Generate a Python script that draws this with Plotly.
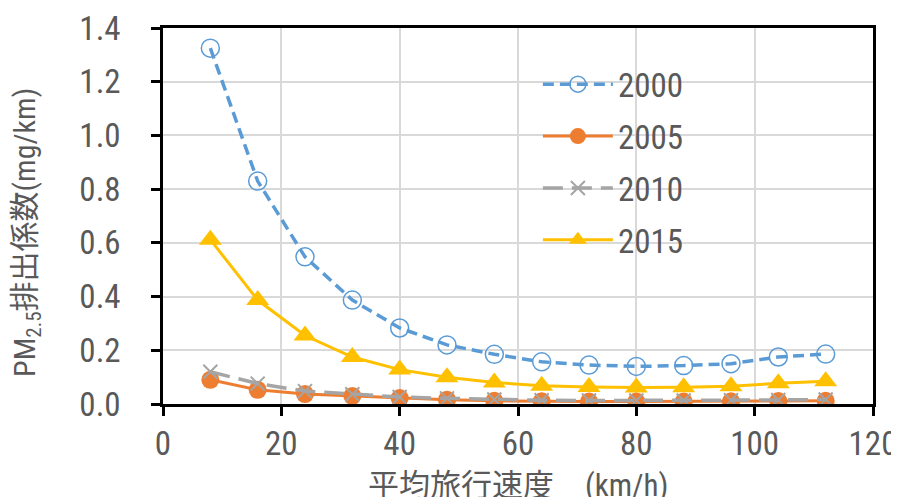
import plotly.graph_objects as go

speed = [8, 16, 24, 32, 40, 48, 56, 64, 72, 80, 88, 96, 104, 112]
y2000 = [1.325, 0.83, 0.548, 0.387, 0.283, 0.22, 0.185, 0.157, 0.145, 0.14, 0.143, 0.15, 0.175, 0.186]
y2005 = [0.09, 0.053, 0.037, 0.03, 0.022, 0.016, 0.012, 0.01, 0.009, 0.009, 0.009, 0.01, 0.011, 0.012]
y2010 = [0.12, 0.076, 0.048, 0.036, 0.026, 0.021, 0.017, 0.014, 0.013, 0.013, 0.013, 0.014, 0.015, 0.017]
y2015 = [0.612, 0.387, 0.255, 0.175, 0.128, 0.1, 0.08, 0.068, 0.063, 0.061, 0.062, 0.066, 0.077, 0.085]

series_names = ["2000", "2005", "2010", "2015"]
x_title = "平均旅行速度　(km/h)"
y_title = "PM<sub>2.5</sub>排出係数(mg/km)"

LATIN = "Roboto Condensed, Noto Sans CJK JP, sans-serif"
TXT = "#595959"

fig = go.Figure()
fig.add_trace(go.Scatter(
    x=speed, y=y2000, name=series_names[0], mode="lines+markers", legendgroup="a",
    line=dict(color="#5B9BD5", width=3.5, dash="11px,6px"),
    marker=dict(symbol="circle-open", size=18, color="#5B9BD5", line=dict(width=1.5, color="#5B9BD5")),
))
fig.add_trace(go.Scatter(
    x=speed, y=y2005, name=series_names[1], mode="lines+markers", legendgroup="b",
    line=dict(color="#ED7D31", width=3),
    marker=dict(symbol="circle", size=18, color="#ED7D31"),
))
fig.add_trace(go.Scatter(
    x=speed, y=y2010, name=series_names[2], mode="lines+markers", legendgroup="c",
    line=dict(color="#A5A5A5", width=3.5, dash="20px,9px"),
    marker=dict(symbol="x-thin", size=14, color="#A5A5A5", line=dict(width=2, color="#A5A5A5")),
))
fig.add_trace(go.Scatter(
    x=speed, y=y2015, name=series_names[3], mode="lines+markers", legendgroup="d",
    line=dict(color="#FFC000", width=3),
    marker=dict(symbol="triangle-up", size=20, color="#FFC000"),
))

# The page body has an 8px default margin, so the figure is sized to fill the window from there.
fig.update_layout(
    width=891, height=489,
    margin=dict(l=155, r=26, t=20, b=93, autoexpand=False),
    paper_bgcolor="white", plot_bgcolor="white",
    font=dict(family=LATIN, size=33, color=TXT),
    showlegend=True,
    legend=dict(x=0.528, y=0.925, xanchor="left", yanchor="top",
                bgcolor="rgba(0,0,0,0)", itemwidth=70, tracegroupgap=6,
                font=dict(family=LATIN, size=33, color=TXT)),
    xaxis=dict(range=[0, 120], dtick=20, tick0=0, showgrid=True, gridcolor="#D9D9D9", gridwidth=1.5,
               showline=True, linecolor="black", linewidth=2.5, mirror=True,
               ticks="outside", ticklen=9, tickwidth=2.5, tickcolor="black",
               zeroline=False, ticklabelstandoff=0, automargin=False,
               tickfont=dict(family=LATIN, size=33, color=TXT)),
    yaxis=dict(range=[0, 1.4], dtick=0.2, tick0=0, tickformat=".1f", showgrid=True, gridcolor="#D9D9D9", gridwidth=1.5,
               showline=True, linecolor="black", linewidth=2.5, mirror=True,
               ticks="outside", ticklen=9, tickwidth=2.5, tickcolor="black",
               zeroline=False, ticklabelstandoff=24, automargin=False,
               tickfont=dict(family=LATIN, size=33, color=TXT)),
    annotations=[
        dict(text=y_title, xref="paper", yref="paper", x=-0.1915, y=0.455, xanchor="center", yanchor="middle",
             textangle=-90, showarrow=False, font=dict(family=LATIN, size=30, color=TXT)),
        dict(text=x_title, xref="paper", yref="paper", x=0.5, y=-0.218, xanchor="center", yanchor="middle",
             showarrow=False, font=dict(family=LATIN, size=31, color=TXT)),
    ],
)

fig.write_html("out.html")
